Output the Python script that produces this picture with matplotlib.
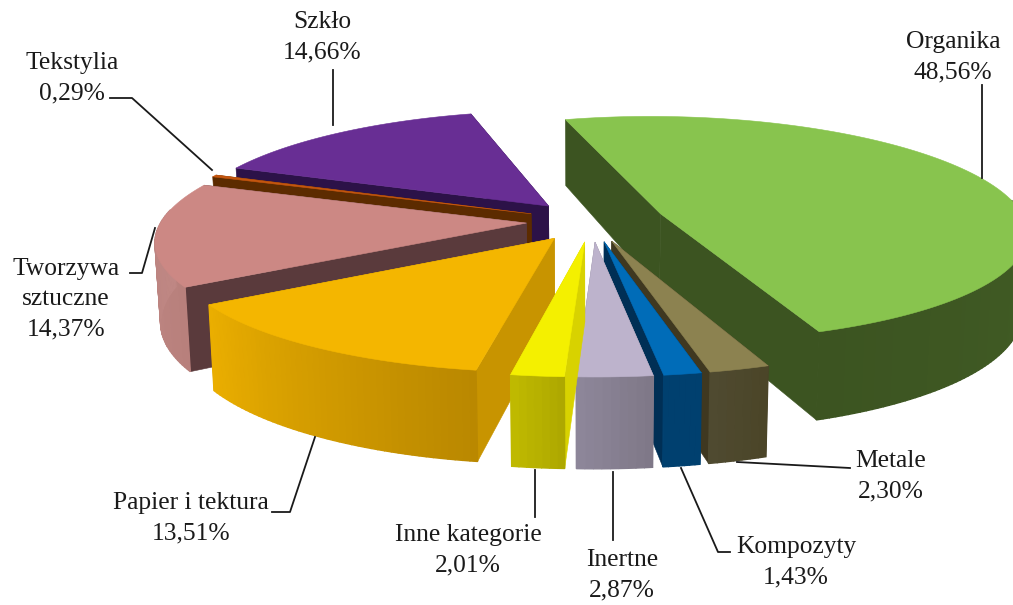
import numpy as np
import matplotlib
matplotlib.use("Agg")
import matplotlib.pyplot as plt
from matplotlib.colors import to_rgb
from matplotlib.patches import Polygon

categories = ["Organika", "Metale", "Kompozyty", "Inertne", "Inne kategorie",
              "Papier i tektura", "Tworzywa\nsztuczne", "Tekstylia", "Szkło"]
values = [48.56, 2.30, 1.43, 2.87, 2.01, 13.51, 14.37, 0.29, 14.66]
top_cols = ["#88c44e", "#8c8250", "#006cb8", "#bdb3cc", "#f4f000", "#f4b600", "#cc8884", "#c5560f", "#682e94"]
side_cols = ["#3c5421", "#3f3820", "#002f55", "#8a8296", "#d8d200", "#c89400", "#5a3a3c", "#5c2b00", "#2c1248"]
wall_a = ["#3c5421", "#4f4a30", "#00406f", "#8d8699", "#bfb900", "#eaae00", "#c28a87", "#5c2b00", "#2c1248"]
wall_b = ["#4a6b2b", "#4b4528", "#00406f", "#7f7888", "#aea800", "#ba8800", "#b8807c", "#5c2b00", "#2c1248"]
explode = [0.20, 0.18, 0.18, 0.18, 0.18, 0.18, 0.18, 0.18, 0.18]
draw_order = [0, 8, 7, 6, 5, 1, 2, 3, 4]

START = -16.0
F, KF, PX, PY = 365.0, 114.4, 0.15, 0.132
H = 78.0
CX, CY = 592.0, 221.0
SHRINK = 0.013

def project(X, Y, z=0.0):
    sx = 1 - PX * Y
    return (CX + F * X * sx * (1 - SHRINK * z),
            CY - KF * Y * (1 - PY * Y) + H * sx * z)

def pt(theta, r, ex, ey, z=0.0):
    t = np.radians(theta)
    return project(ex + r * np.sin(t), ey + r * np.cos(t), z)

fig = plt.figure(figsize=(10.13, 6.05), dpi=100)
ax = fig.add_axes([0, 0, 1, 1])
ax.set_xlim(0, 1013)
ax.set_ylim(605, 0)
ax.axis("off")

shares = np.array(values) / sum(values) * 360.0
edges = START + np.concatenate([[0], np.cumsum(shares)])

for i in draw_order:
    a1, a2 = edges[i], edges[i + 1]
    mid = np.radians((a1 + a2) / 2)
    ex, ey = explode[i] * np.sin(mid), explode[i] * np.cos(mid)
    # cut faces
    for a in (a1, a2):
        quad = [pt(a, 0, ex, ey), pt(a, 1, ex, ey), pt(a, 1, ex, ey, 1), pt(a, 0, ex, ey, 1)]
        ax.add_patch(Polygon(quad, closed=True, fc=side_cols[i], ec=side_cols[i], lw=0.4))
    # curved wall: only the part that faces the viewer
    th = np.linspace(a1, a2, max(int(a2 - a1), 8))
    ca, cb = np.array(to_rgb(wall_a[i])), np.array(to_rgb(wall_b[i]))
    for j in range(len(th) - 1):
        if np.cos(np.radians((th[j] + th[j + 1]) / 2)) > 0.12:
            continue
        f = j / max(len(th) - 2, 1)
        c = cb + (ca - cb) * f
        quad = [pt(th[j], 1, ex, ey), pt(th[j + 1], 1, ex, ey),
                pt(th[j + 1], 1, ex, ey, 1), pt(th[j], 1, ex, ey, 1)]
        ax.add_patch(Polygon(quad, closed=True, fc=c, ec=c, lw=1.0))
    # top face
    fine = np.linspace(a1, a2, 120)
    poly = [pt(a1, 0, ex, ey)] + [pt(t, 1, ex, ey) for t in fine]
    ax.add_patch(Polygon(poly, closed=True, fc=top_cols[i], ec=top_cols[i], lw=0.4))

pct = [f"{v:.2f}".replace(".", ",") + "%" for v in values]
label_xy = [(953, 57), (891, 476), (796, 562), (622, 575), (468, 550),
            (191, 518), (66, 299), (72, 78), (322, 37)]
for name, p, (x, y) in zip(categories, pct, label_xy):
    ax.text(x, y, f"{name}\n{p}", ha="center", va="center", family="Liberation Serif",
            fontsize=18.4, color="#1a1a1a", linespacing=1.48)

leaders = [[(982, 85), (982, 178)],
           [(737, 462), (850, 468)],
           [(681, 468), (718, 552), (730, 552)],
           [(613, 472), (613, 540)],
           [(535, 470), (535, 517)],
           [(272, 512), (290, 512), (315, 437)],
           [(130, 273), (142, 273), (155, 228)],
           [(110, 98), (132, 98), (212, 170)],
           [(333, 70), (333, 125)]]
for seg in leaders:
    xs, ys = zip(*seg)
    ax.plot(xs, ys, color="#1a1a1a", lw=1.3)

fig.savefig("out.png", dpi=100)
